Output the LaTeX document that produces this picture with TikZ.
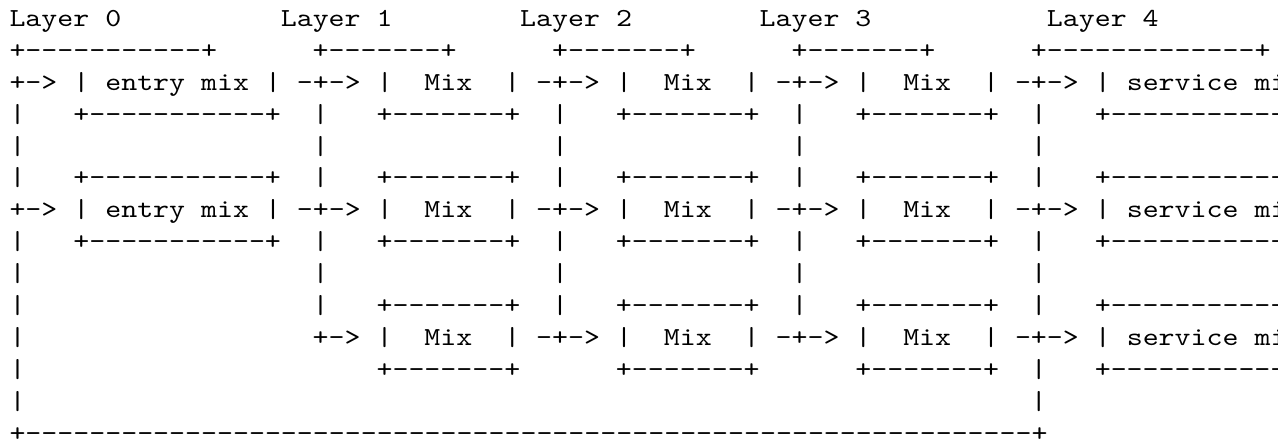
\documentclass[tikz,border=0pt]{standalone}
\usepackage{fontspec}
\setmonofont{lmmono10-regular.otf}[FakeStretch=1.17]
\tikzset{seg/.style={anchor=base west, inner sep=0pt, outer sep=0pt, text=black,
  font=\ttfamily\fontsize{26pt}{32pt}\selectfont}}
% #1 = column, #2 = line, #3 = text
\newcommand\seg[3]{\node[seg] (s#2-#1) at ({9.5+15.96*#1},{442-(26.5+31.9*(#2-1))}) {#3};}
\newcommand\boxrow[1]{%
  \seg{0}{#1}{|}\seg{4}{#1}{+-----------+}\seg{19}{#1}{|}\seg{23}{#1}{+-------+}%
  \seg{34}{#1}{|}\seg{38}{#1}{+-------+}\seg{49}{#1}{|}\seg{53}{#1}{+-------+}%
  \seg{64}{#1}{|}\seg{68}{#1}{+-------------+}}
\newcommand\barrow[1]{%
  \seg{0}{#1}{|}\seg{19}{#1}{|}\seg{34}{#1}{|}\seg{49}{#1}{|}\seg{64}{#1}{|}}
\newcommand\mixrow[1]{%
  \seg{0}{#1}{+-> | entry mix | -+-> |}\seg{26}{#1}{Mix}\seg{31}{#1}{| -+-> |}%
  \seg{41}{#1}{Mix}\seg{46}{#1}{| -+-> |}\seg{56}{#1}{Mix}\seg{61}{#1}{| -+-> | service mix |}}
\begin{document}
\begin{tikzpicture}[x=1pt,y=1pt]
\useasboundingbox (0,0) rectangle (1278,442);
\fill[white] (0,0) rectangle (1278,442);
\clip (0,0) rectangle (1278,442);
% line 1
\seg{0}{1}{Layer 0}\seg{17}{1}{Layer 1}\seg{32}{1}{Layer 2}\seg{47}{1}{Layer 3}\seg{65}{1}{Layer 4}
% line 2
\seg{0}{2}{+-----------+}\seg{19}{2}{+-------+}\seg{34}{2}{+-------+}\seg{49}{2}{+-------+}\seg{64}{2}{+-------------+}
\mixrow{3}
\boxrow{4}
\barrow{5}
\boxrow{6}
\mixrow{7}
\boxrow{8}
\barrow{9}
% line 10
\seg{0}{10}{|}\seg{19}{10}{|}\seg{23}{10}{+-------+}\seg{34}{10}{|}\seg{38}{10}{+-------+}
\seg{49}{10}{|}\seg{53}{10}{+-------+}\seg{64}{10}{|}\seg{68}{10}{+-------------+}
% line 11
\seg{0}{11}{|}\seg{19}{11}{+-> |}\seg{26}{11}{Mix}\seg{31}{11}{| -+-> |}
\seg{41}{11}{Mix}\seg{46}{11}{| -+-> |}\seg{56}{11}{Mix}\seg{61}{11}{| -+-> | service mix |}
% line 12
\seg{0}{12}{|}\seg{23}{12}{+-------+}\seg{38}{12}{+-------+}\seg{53}{12}{+-------+}
\seg{64}{12}{|}\seg{68}{12}{+-------------+}
% line 13
\seg{0}{13}{|}\seg{64}{13}{|}
% line 14
\seg{0}{14}{+---------------------------------------------------------------+}
\end{tikzpicture}
\end{document}
